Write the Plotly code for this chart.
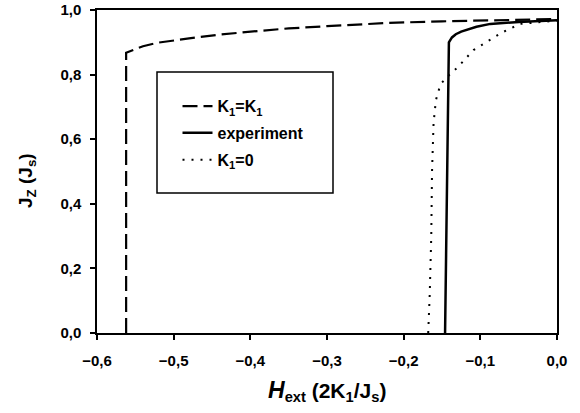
import plotly.graph_objects as go

# K1=K1 (dashed)
h_k1k1 = [-0.562, -0.562, -0.54, -0.52, -0.48, -0.44, -0.39, -0.35, -0.30, -0.26, -0.22, -0.15, -0.08, 0.0]
j_k1k1 = [0.0, 0.868, 0.888, 0.899, 0.912, 0.924, 0.935, 0.943, 0.950, 0.955, 0.960, 0.965, 0.969, 0.972]

# experiment (solid)
h_exp = [-0.146, -0.141, -0.137, -0.132, -0.125, -0.105, -0.087, -0.05, 0.0]
j_exp = [0.0, 0.900, 0.915, 0.925, 0.933, 0.948, 0.957, 0.963, 0.968]

# K1=0 (dotted)
h_k0 = [-0.168, -0.166, -0.164, -0.163, -0.161, -0.158, -0.155, -0.151, -0.14, -0.129, -0.109, -0.085, -0.072, -0.048, 0.0]
j_k0 = [0.0, 0.12, 0.30, 0.50, 0.65, 0.72, 0.747, 0.773, 0.80, 0.824, 0.876, 0.912, 0.930, 0.957, 0.967]

x_ticks = [-0.6, -0.5, -0.4, -0.3, -0.2, -0.1, 0.0]
y_ticks = [0.0, 0.2, 0.4, 0.6, 0.8, 1.0]

FONT = "Liberation Sans, Arial, sans-serif"

fig = go.Figure()
fig.add_trace(go.Scatter(x=h_k1k1, y=j_k1k1, mode="lines", name="K<sub>1</sub>=K<sub>1</sub>",
                         legendgroup="a",
                         line=dict(color="black", width=2.2, dash="15px,6px")))
fig.add_trace(go.Scatter(x=h_exp, y=j_exp, mode="lines", name="experiment",
                         legendgroup="b",
                         line=dict(color="black", width=2.5)))
fig.add_trace(go.Scatter(x=h_k0, y=j_k0, mode="lines", name="K<sub>1</sub>=0",
                         legendgroup="c",
                         line=dict(color="black", width=2, dash="2px,7px")))

axis_common = dict(showline=True, linecolor="black", linewidth=1.5, mirror=True,
                   ticks="outside", ticklen=5, tickwidth=1.5, tickcolor="black",
                   showgrid=False, zeroline=False, automargin=False,
                   ticklabeloverflow="allow",
                   tickfont=dict(family=FONT, size=15, color="black", weight="bold"))

fig.update_layout(
    width=580, height=413,
    margin=dict(l=97, r=23, t=10, b=80, autoexpand=False),
    plot_bgcolor="white", paper_bgcolor="white",
    separators=",.",
    font=dict(family=FONT, color="black"),
    xaxis=dict(range=[-0.6, 0.0], tickvals=x_ticks, tickformat=".1f", ticklabelstandoff=8, **axis_common),
    yaxis=dict(range=[0.0, 1.0], tickvals=y_ticks, tickformat=".1f", ticklabelstandoff=6, **axis_common),
    legend=dict(x=0.175, y=0.755, xanchor="left", yanchor="top",
                bgcolor="rgba(0,0,0,0)", borderwidth=0,
                font=dict(family=FONT, size=16, color="black", weight="bold"),
                traceorder="grouped", tracegroupgap=3),
    shapes=[dict(type="rect", xref="paper", yref="paper",
                 x0=(157 - 97) / 460, x1=(333 - 97) / 460,
                 y0=(333 - 193) / 323, y1=(333 - 72) / 323,
                 line=dict(color="black", width=1.5))],
    annotations=[
        dict(text="<i><span style='font-size:23px'>H</span></i><sub>ext</sub> (2K<sub>1</sub>/J<sub>s</sub>)",
             xref="paper", yref="paper", x=0.5, y=(333 - 391) / 323,
             xanchor="center", yanchor="middle", showarrow=False,
             font=dict(family=FONT, size=21, color="black", weight="bold")),
        dict(text="J<sub>Z</sub> (J<sub>s</sub>)", textangle=-90,
             xref="paper", yref="paper", x=(27 - 97) / 460, y=(333 - 181) / 323,
             xanchor="center", yanchor="middle", showarrow=False,
             font=dict(family=FONT, size=19, color="black", weight="bold")),
    ],
)

fig.write_html("out.html", config={"displayModeBar": False},
               post_script="document.body.style.margin='0px';")
